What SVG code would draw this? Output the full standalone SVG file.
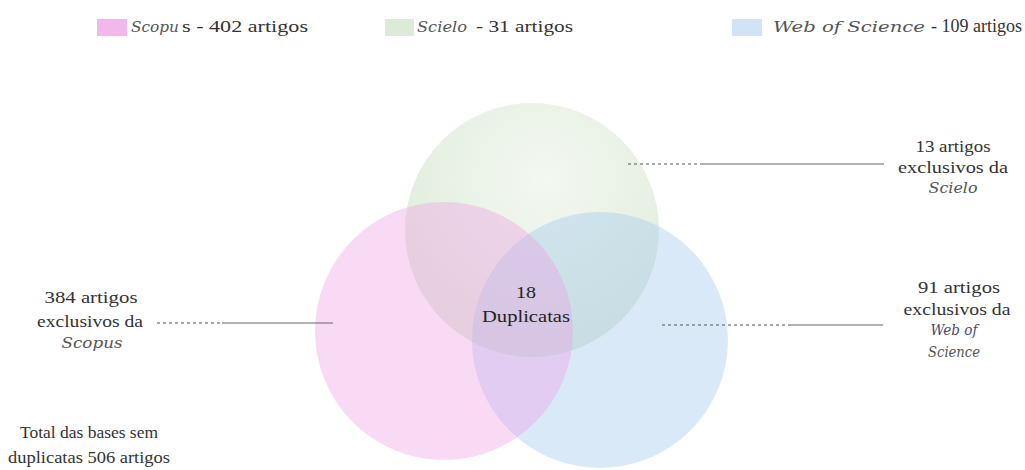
<svg xmlns="http://www.w3.org/2000/svg" width="1025" height="470" viewBox="0 0 1025 470">
<style>
  .t { font-family: "Liberation Serif", "Times New Roman", serif; font-size: 17px; fill: #333; }
  .lg { font-size: 16px; }
  .i { font-family: "DejaVu Serif", "Liberation Serif", serif; font-style: italic; font-size: 15px; fill: #555; }
  .c { text-anchor: middle; }
  .solid { stroke: #666; stroke-width: 1; fill: none; }
  .dash { stroke: #555; stroke-width: 1.2; stroke-dasharray: 3 3; fill: none; }
</style>
<defs>
  <radialGradient id="gG" cx="0.55" cy="0.3" r="0.65">
    <stop offset="0" stop-color="#e3eedf"/>
    <stop offset="1" stop-color="#b7d3ac"/>
  </radialGradient>
</defs>
<rect width="1025" height="470" fill="#ffffff"/>

<g id="legend">
  <g id="legend-scopus">
    <rect x="97" y="19" width="30" height="17" fill="#f2b8ec"/>
    <text class="t lg" y="32"><tspan class="i" x="131" textLength="48" lengthAdjust="spacingAndGlyphs">Scopu</tspan><tspan x="182" textLength="126" lengthAdjust="spacingAndGlyphs">s - 402 artigos</tspan></text>
  </g>
  <g id="legend-scielo">
    <rect x="385" y="19" width="29" height="17" fill="#dcebd8"/>
    <text class="t lg" y="32"><tspan class="i" x="417" textLength="50" lengthAdjust="spacingAndGlyphs">Scielo</tspan><tspan x="476" textLength="97" lengthAdjust="spacingAndGlyphs">- 31 artigos</tspan></text>
  </g>
  <g id="legend-wos">
    <rect x="732" y="19" width="30" height="17" fill="#d3e3f6"/>
    <text class="t" y="32"><tspan class="i" x="773" textLength="152" lengthAdjust="spacingAndGlyphs">Web of Science</tspan><tspan x="931" style="font-size:18px">- 109 artigos</tspan></text>
  </g>
</g>

<g id="venn">
  <g id="circle-scielo"><circle cx="532" cy="230" r="127" fill="url(#gG)" fill-opacity="0.42"/></g>
  <g id="circle-wos"><circle cx="600" cy="340" r="128" fill="#a3c8ee" fill-opacity="0.4"/></g>
  <g id="circle-scopus"><circle cx="444" cy="331" r="129" fill="#ee9fe6" fill-opacity="0.38"/></g>
  <g id="center-label">
    <text class="t c" x="526" y="298" style="fill:#222" textLength="20" lengthAdjust="spacingAndGlyphs">18</text>
    <text class="t c" x="526" y="322" style="fill:#222" textLength="88" lengthAdjust="spacingAndGlyphs">Duplicatas</text>
  </g>
</g>

<g id="connectors">
  <line class="dash" x1="157" y1="323" x2="222" y2="323"/>
  <line class="solid" x1="222" y1="323" x2="333" y2="323"/>
  <line class="dash" x1="628" y1="164" x2="700" y2="164"/>
  <line class="solid" x1="700" y1="164" x2="884" y2="164"/>
  <line class="dash" x1="662" y1="325" x2="790" y2="325"/>
  <line class="solid" x1="790" y1="325" x2="883" y2="325"/>
</g>

<g id="label-scopus">
  <text class="t c" x="91" y="303" textLength="93" lengthAdjust="spacingAndGlyphs">384 artigos</text>
  <text class="t c" x="90" y="327" textLength="106" lengthAdjust="spacingAndGlyphs">exclusivos da</text>
  <text class="i c" x="92" y="348" textLength="61" lengthAdjust="spacingAndGlyphs">Scopus</text>
</g>
<g id="label-total">
  <text class="t c" x="89" y="438" textLength="138" lengthAdjust="spacingAndGlyphs">Total das bases sem</text>
  <text class="t c" x="89" y="463" textLength="162" lengthAdjust="spacingAndGlyphs">duplicatas 506 artigos</text>
</g>
<g id="label-scielo">
  <text class="t c" x="953" y="152" textLength="75" lengthAdjust="spacingAndGlyphs">13 artigos</text>
  <text class="t c" x="953" y="173" textLength="110" lengthAdjust="spacingAndGlyphs">exclusivos da</text>
  <text class="i c" x="953" y="193" textLength="49" lengthAdjust="spacingAndGlyphs">Scielo</text>
</g>
<g id="label-wos">
  <text class="t c" x="959" y="293" textLength="82" lengthAdjust="spacingAndGlyphs">91 artigos</text>
  <text class="t c" x="957" y="315" textLength="107" lengthAdjust="spacingAndGlyphs">exclusivos da</text>
  <text class="i c" x="954" y="335" style="fill:#4a4a6a" textLength="47" lengthAdjust="spacingAndGlyphs">Web of</text>
  <text class="i c" x="954" y="357" textLength="52" lengthAdjust="spacingAndGlyphs">Science</text>
</g>
</svg>
